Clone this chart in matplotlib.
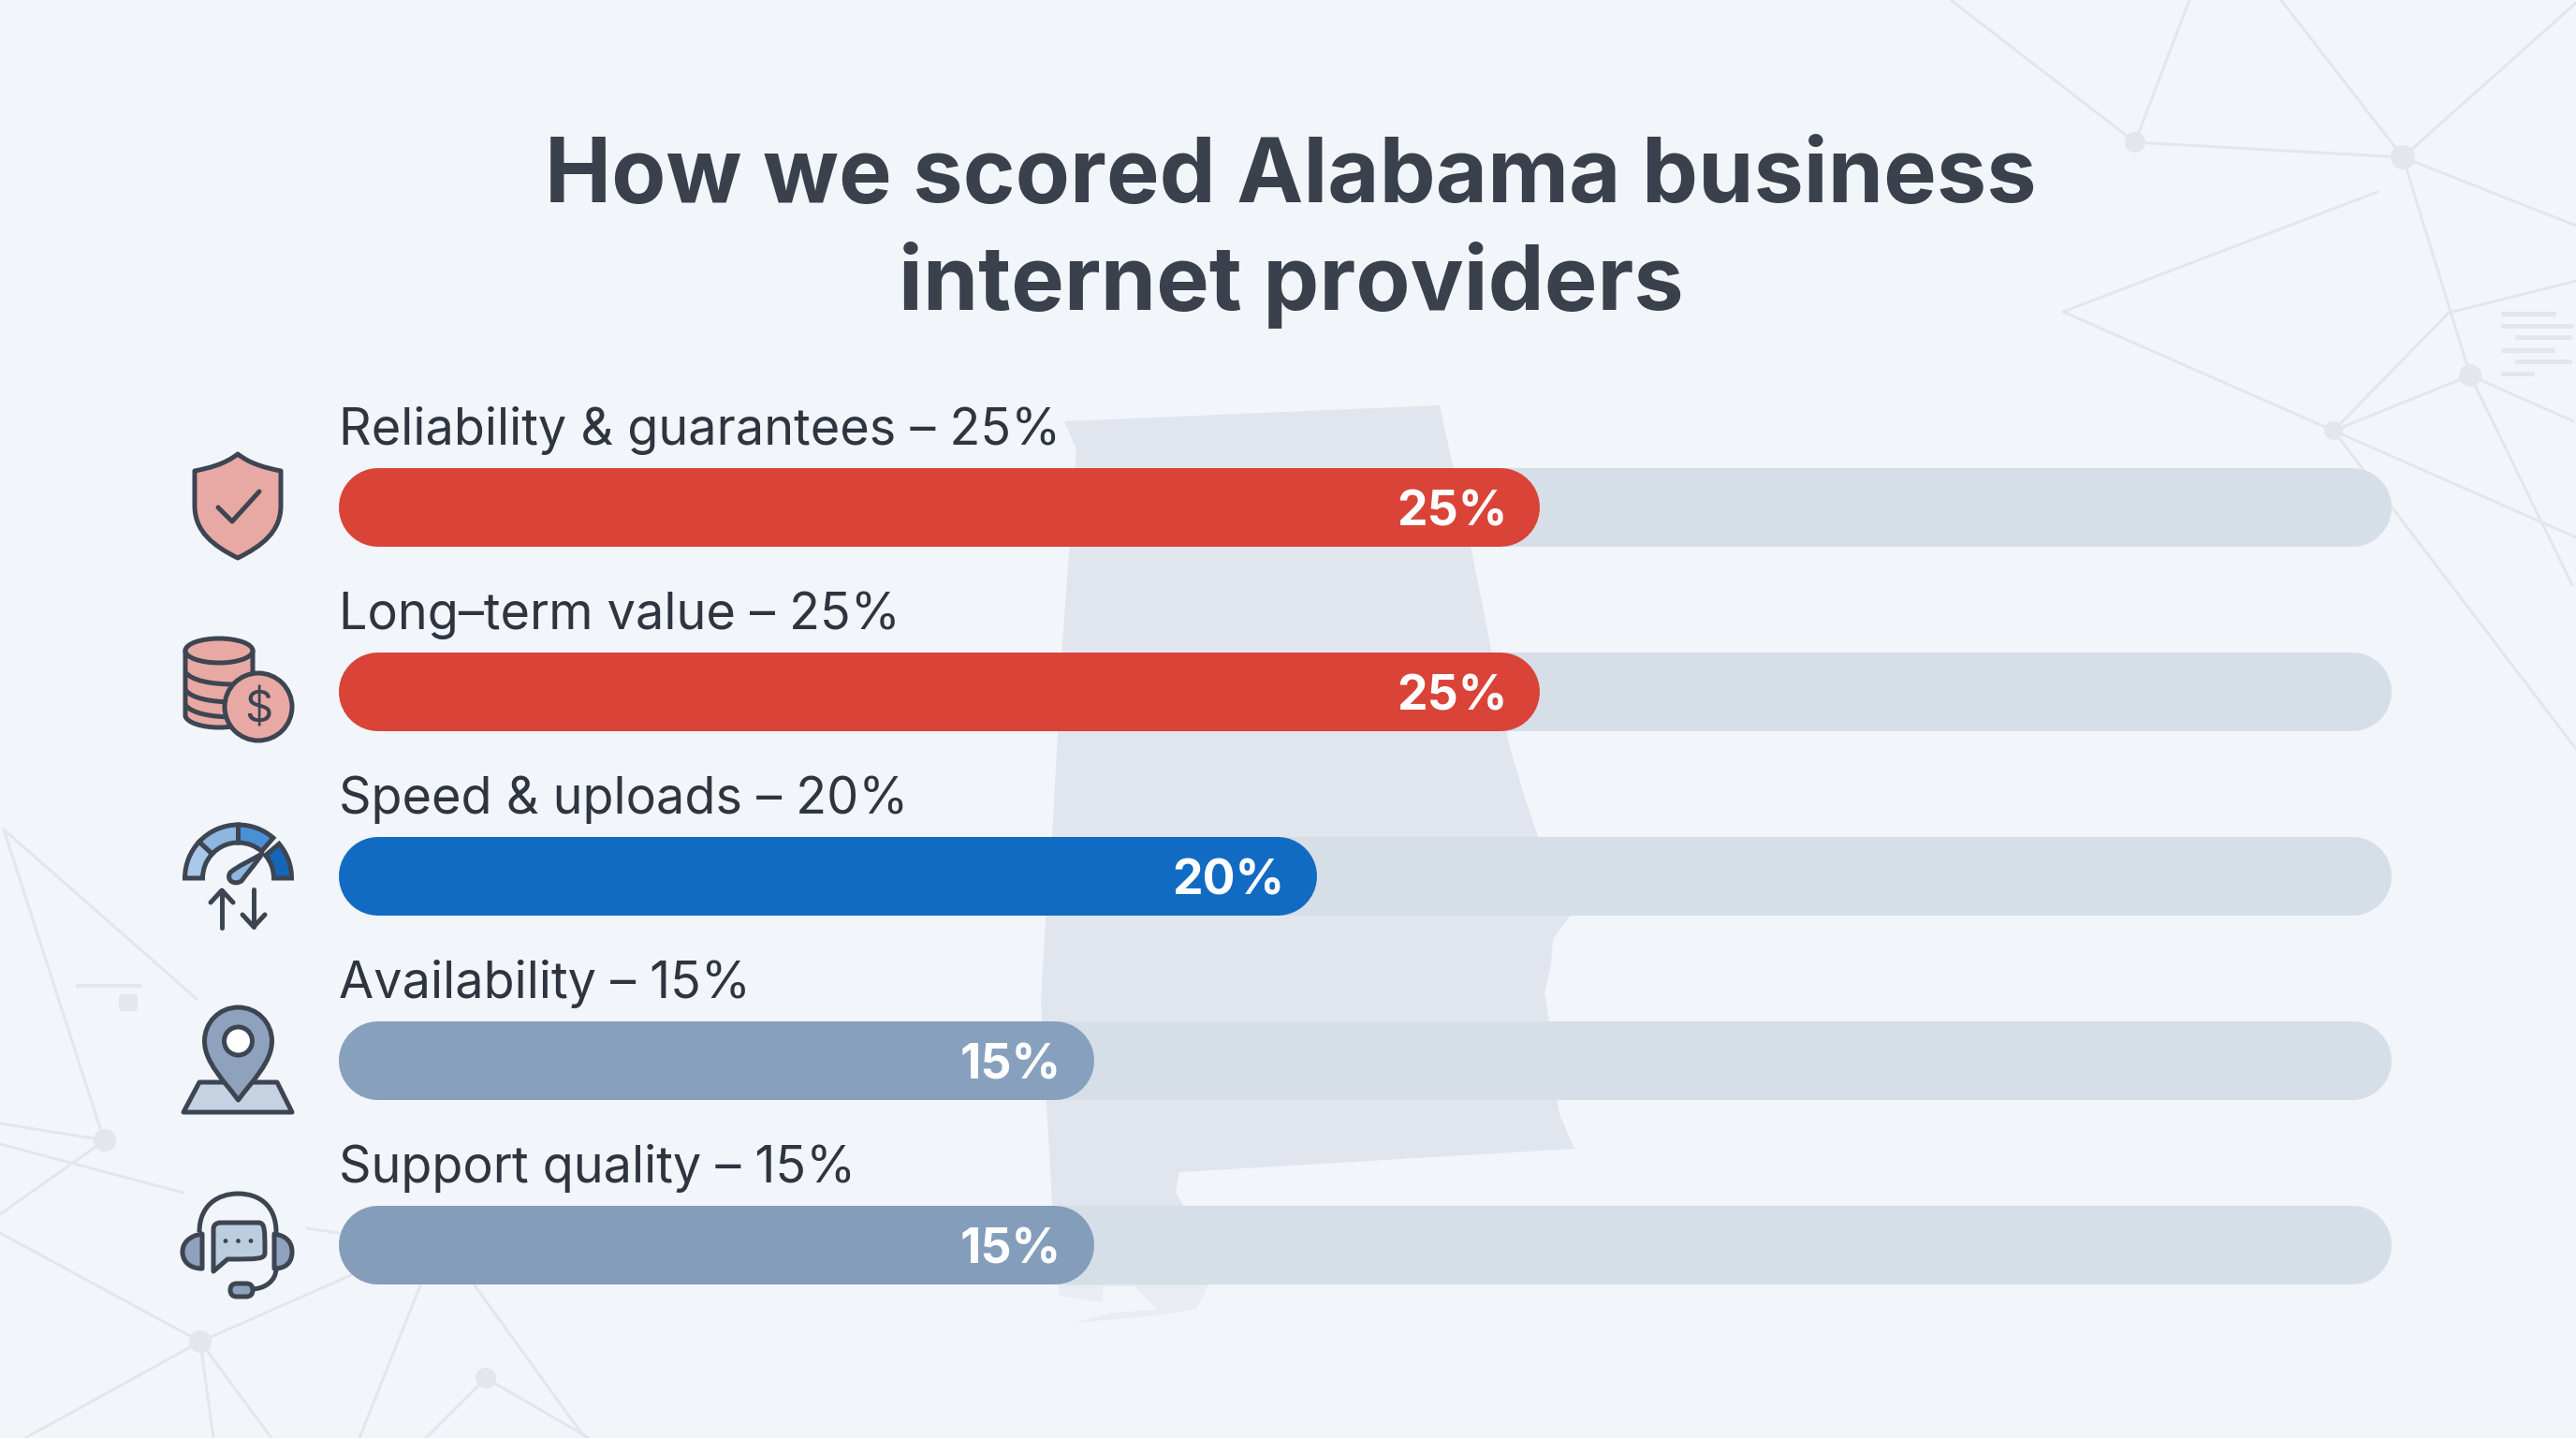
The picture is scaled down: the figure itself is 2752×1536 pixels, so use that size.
import matplotlib
matplotlib.use("Agg")

import matplotlib.pyplot as plt
from matplotlib.patches import Circle, Ellipse, FancyBboxPatch, PathPatch, Polygon, Wedge
from matplotlib.path import Path

plt.rcParams["font.family"] = ["Inter", "DejaVu Sans"]

# chart data
categories = [
    "Reliability & guarantees",
    "Long\u2013term value",
    "Speed & uploads",
    "Availability",
    "Support quality",
]
weights = [25, 25, 20, 15, 15]
bar_colors = ["#da4338", "#da4338", "#116bc3", "#87a0bd", "#849dbb"]
title_lines = ["How we scored Alabama business", "internet providers"]

BG = "#f2f5f9"
TRACK = "#d6dee7"
MAP = "#e1e6ee"
COAST = "#e9edf3"
NET = "#e3e7ed"
NODE = "#e2e7ee"
TEXT = "#2f3540"
TITLE = "#3a404c"
INK = "#3d4552"
ROSE = "#e8a9a4"
SLATE = "#8ea2bd"
PALE = "#c5d2e1"

W, H = 2752, 1536
PT = 72 / 200  # one output pixel in points

fig = plt.figure(figsize=(W / 200, H / 200), dpi=200, facecolor=BG)


def pixel_axes(zorder):
    a = fig.add_axes([0, 0, 1, 1], zorder=zorder)
    a.set_xlim(0, W)
    a.set_ylim(H, 0)
    a.axis("off")
    return a


# background: state outline and network lines
bg = pixel_axes(0)

alabama = [
    (1137, 450), (1538, 433), (1572, 588), (1592, 688), (1612, 795), (1630, 855),
    (1644, 896), (1677, 979), (1659, 1003), (1657, 1030), (1650, 1060), (1655, 1090),
    (1664, 1177), (1666, 1190), (1682, 1227), (1260, 1252), (1256, 1274), (1264, 1287),
    (1291, 1373), (1130, 1373), (1124, 1284), (1112, 1070),
    (1117, 983), (1124, 896), (1135, 688), (1150, 480),
]
coast = [
    (1130, 1373), (1291, 1373), (1278, 1398), (1237, 1405), (1146, 1413), (1190, 1402),
    (1237, 1399), (1211, 1374), (1179, 1374), (1177, 1391), (1132, 1384),
]
bg.add_patch(Polygon(alabama, closed=True, facecolor=MAP, edgecolor="none"))
bg.add_patch(Polygon(coast, closed=True, facecolor=COAST, edgecolor="none"))

net_lines = [
    # top right
    ((2084, 0), (2281, 152)), ((2339, 0), (2281, 152)), ((2281, 152), (2567, 168)),
    ((2437, 0), (2567, 168)), ((2752, 3), (2567, 168)), ((2567, 168), (2752, 241)),
    ((2567, 168), (2639, 401)), ((2204, 333), (2540, 205)), ((2204, 333), (2493, 460)),
    ((2493, 460), (2616, 334)), ((2616, 334), (2752, 300)), ((2493, 460), (2639, 401)),
    ((2639, 401), (2749, 450)), ((2639, 401), (2748, 625)), ((2493, 460), (2752, 574)),
    ((2493, 460), (2752, 800)),
    # bottom left
    ((4, 886), (107, 1205)), ((4, 886), (210, 1067)), ((0, 1200), (112, 1218)),
    ((0, 1222), (196, 1274)), ((0, 1297), (112, 1218)), ((0, 1317), (214, 1433)),
    ((214, 1433), (375, 1362)), ((27, 1536), (214, 1433)), ((214, 1433), (228, 1536)),
    ((214, 1433), (290, 1536)), ((384, 1536), (449, 1373)), ((507, 1373), (625, 1536)),
    ((455, 1536), (519, 1472)), ((519, 1472), (629, 1536)), ((328, 1312), (362, 1317)),
]
for p, q in net_lines:
    bg.plot([p[0], q[0]], [p[1], q[1]], color=NET, lw=3 * PT, solid_capstyle="round")

net_nodes = [
    (2281, 152, 11), (2567, 168, 13), (2639, 401, 12), (2493, 460, 10),
    (112, 1218, 12), (214, 1433, 12), (519, 1472, 11),
]
for cx, cy, r in net_nodes:
    bg.add_patch(Circle((cx, cy), r, facecolor=NODE, edgecolor="none"))

# small faded text marks at the right edge, and the scrap on the left
for x0, x1, y in [
    (2672, 2730, 335), (2672, 2749, 348), (2687, 2747, 360),
    (2672, 2729, 374), (2687, 2747, 386), (2672, 2707, 399),
]:
    bg.plot([x0, x1], [y, y], color="#e2e7ee", lw=5 * PT, solid_capstyle="butt")
bg.plot([83, 150], [1053, 1053], color="#e4e8ee", lw=4 * PT)
bg.add_patch(FancyBboxPatch((127, 1062), 20, 18, boxstyle="round,pad=0,rounding_size=4",
                            facecolor="#e3e7ee", edgecolor="none"))

# bars, in value units: value 0 sits at pixel 413, one unit is 47.6 pixels
ax = fig.add_axes([0, 0, 1, 1], zorder=1)
ax.patch.set_alpha(0)
ax.axis("off")
ax.set_xlim(-413 / 47.6, (W - 413) / 47.6)
ax.set_ylim((H - 542) / 197, -542 / 197)

BAR_LW = 84 * PT
BAR_START = -0.19
TRACK_END = 44.12
LABEL_X = -1.07

for row, (name, value, color) in enumerate(zip(categories, weights, bar_colors)):
    ax.plot([BAR_START, TRACK_END], [row, row], color=TRACK, lw=BAR_LW, solid_capstyle="round")
    ax.plot([BAR_START, value], [row, row], color=color, lw=BAR_LW, solid_capstyle="round")
    ax.text(LABEL_X, row - 0.34, f"{name} \u2013 {value}%", fontsize=19.45, color=TEXT,
            ha="left", va="baseline")
    ax.text(value + 0.15, row + 0.1, f"{value}%", fontsize=18.6, fontweight="bold", color="white",
            ha="right", va="baseline")

# title
top = pixel_axes(2)
for text, y in zip(title_lines, [216, 331]):
    top.text(1379, y, text, fontsize=34.3, fontweight="bold", color=TITLE, ha="center", va="baseline")

# icons
STROKE = 5 * PT


def curved(verts, codes, **kw):
    kw.setdefault("edgecolor", INK)
    kw.setdefault("lw", STROKE)
    kw.setdefault("joinstyle", "round")
    top.add_patch(PathPatch(Path(verts, codes), **kw))


M, L, C, Z = Path.MOVETO, Path.LINETO, Path.CURVE4, Path.CLOSEPOLY

# shield
curved(
    [(254, 485), (268, 496), (285, 500), (300, 503), (300, 540), (300, 568), (280, 583),
     (254, 596), (228, 583), (208, 568), (208, 540), (208, 503), (223, 500), (240, 496),
     (254, 485), (254, 485)],
    [M, C, C, C, L, C, C, C, C, C, C, L, C, C, C, Z],
    facecolor=ROSE,
)
top.plot([233, 248, 277], [542, 557, 525], color=INK, lw=STROKE, solid_capstyle="round",
         solid_joinstyle="round")

# coins
curved(
    [(198, 695), (198, 765), (200, 772), (216, 777), (234, 777), (252, 777), (268, 772),
     (270, 765), (270, 695), (198, 695)],
    [M, L, C, C, C, C, C, C, L, Z],
    facecolor=ROSE,
)
top.add_patch(Ellipse((234, 695), 72, 26, facecolor=ROSE, edgecolor=INK, lw=STROKE))
for y in [718, 737, 753]:
    curved([(198, y), (205, y + 9), (225, y + 13), (252, y + 13)], [M, C, C, C], facecolor="none")
top.add_patch(Circle((276, 755), 36, facecolor=ROSE, edgecolor=INK, lw=STROKE))
top.text(276, 755, "$", fontsize=17, color=INK, ha="center", va="center_baseline")

# gauge
gauge = [(180, 223, "#a9c7e6"), (223, 270, "#8db7de"), (270, 311, "#4a90d6"), (320, 360, "#1466b8")]
for t0, t1, c in gauge:
    top.add_patch(Wedge((254.5, 938), 57, t0, t1, width=19, facecolor=c, edgecolor=INK, lw=STROKE))
curved(
    [(280, 912), (272, 924), (263, 934), (258, 941), (250, 946), (241, 940), (246, 932),
     (254, 925), (268, 919), (280, 912), (280, 912)],
    [M, C, C, C, C, C, C, C, C, C, Z],
    facecolor="#8db7de",
)
top.plot([237, 237], [991, 951], color=INK, lw=STROKE, solid_capstyle="round")
top.plot([225, 237, 249], [964, 951, 964], color=INK, lw=STROKE, solid_capstyle="round")
top.plot([271, 271], [950, 990], color=INK, lw=STROKE, solid_capstyle="round")
top.plot([259, 271, 283], [977, 990, 977], color=INK, lw=STROKE, solid_capstyle="round")

# map pin
top.add_patch(Polygon([(213, 1156), (296, 1156), (312, 1188), (196, 1188)], closed=True,
                      facecolor=PALE, edgecolor=INK, lw=STROKE, joinstyle="round"))
curved(
    [(254.5, 1175), (240, 1155), (218.5, 1135), (218.5, 1112), (218.5, 1092), (234.5, 1076),
     (254.5, 1076), (274.5, 1076), (290.5, 1092), (290.5, 1112), (290.5, 1135), (269, 1155),
     (254.5, 1175), (254.5, 1175)],
    [M, C, C, C, C, C, C, C, C, C, C, C, C, Z],
    facecolor=SLATE,
)
top.add_patch(Circle((254.5, 1112), 15, facecolor="white", edgecolor=INK, lw=STROKE))

# headset with chat bubble
curved(
    [(213, 1316), (213, 1288), (232, 1275), (254.5, 1275), (277, 1275), (295, 1288), (295, 1316),
     (295, 1355), (295, 1368), (283, 1377), (268, 1377)],
    [M, C, C, C, C, C, C, L, C, C, C],
    facecolor="none",
)
curved(
    [(216, 1318), (202, 1320), (195, 1328), (195, 1337), (195, 1347), (202, 1355), (216, 1355),
     (216, 1318)],
    [M, C, C, C, C, C, C, Z],
    facecolor=SLATE,
)
curved(
    [(293, 1318), (307, 1320), (312, 1328), (312, 1337), (312, 1347), (307, 1355), (293, 1355),
     (293, 1318)],
    [M, C, C, C, C, C, C, Z],
    facecolor=SLATE,
)
curved(
    [(235, 1306), (276, 1306), (283, 1306), (283, 1313), (283, 1338), (283, 1345), (276, 1345),
     (243, 1345), (228, 1358), (228, 1313), (228, 1306), (235, 1306), (235, 1306)],
    [M, L, C, C, L, C, C, L, L, L, C, C, Z],
    facecolor="#bccde0",
)
for x in [241, 254.5, 268]:
    top.add_patch(Circle((x, 1325.5), 2.4, facecolor=INK, edgecolor="none"))
top.add_patch(FancyBboxPatch((246, 1371), 24, 14, boxstyle="round,pad=0,rounding_size=7",
                             facecolor=SLATE, edgecolor=INK, lw=STROKE))

fig.savefig("out.png", dpi=200, facecolor=BG)
plt.close(fig)
